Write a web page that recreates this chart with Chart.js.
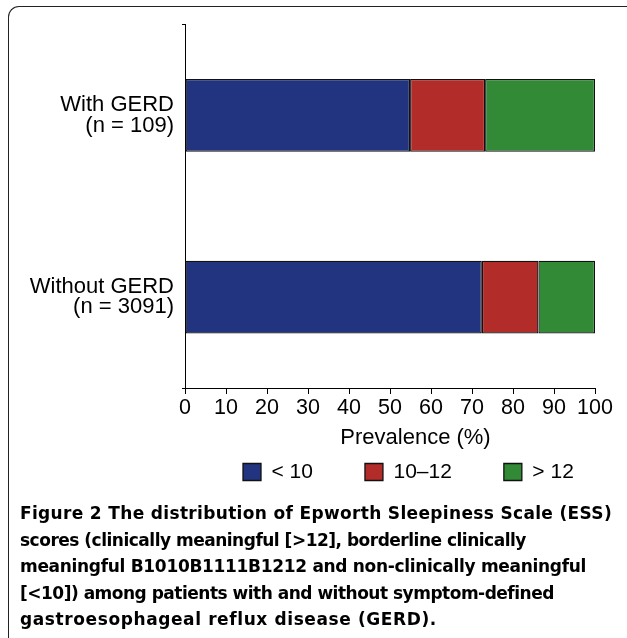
<!DOCTYPE html>
<html><head><meta charset="utf-8">
<script src="https://cdn.jsdelivr.net/npm/chart.js@4.4.0/dist/chart.umd.min.js"></script>
<style>
html,body{margin:0;padding:0;background:#fff;width:627px;height:638px;overflow:hidden;}
#frame{position:absolute;left:8px;top:6px;width:700px;height:700px;border-left:1.5px solid #222;border-top:1.5px solid #222;border-top-left-radius:11px;box-sizing:border-box;}
#wrap{position:absolute;left:0;top:0;width:627px;height:532px;}
#cap{position:absolute;left:20px;top:500px;font-family:"DejaVu Sans",sans-serif;font-weight:700;font-size:17px;line-height:26.6px;color:#000;}
#cap div{white-space:nowrap;display:block;width:max-content;}
</style></head><body>
<div id="frame"></div>
<div id="wrap"><canvas id="c"></canvas></div>
<div id="cap">
<div data-end="612"><b>Figure 2</b> The distribution of Epworth Sleepiness Scale (ESS)</div>
<div data-end="508">scores (clinically meaningful [&gt;12], borderline clinically</div>
<div data-end="586">meaningful B1010B1111B1212 and non-clinically meaningful</div>
<div data-end="553">[&lt;10]) among patients with and without symptom-defined</div>
<div data-end="460">gastroesophageal reflux disease (GERD).</div>
</div>
<script>
const categories = [['With GERD', '(n = 109)'], ['Without GERD', '(n = 3091)']];
const seriesNames = ['< 10', '10\u201312', '> 12'];
const below10 = [54.9, 72.4];
const from10to12 = [18.3, 13.8];
const above12 = [26.8, 13.8];
const seriesColors = ['#22347f', '#b22d29', '#328a36'];
const axisTitle = 'Prevalence (%)';

Chart.defaults.font.family = '"Liberation Sans", Arial, sans-serif';
Chart.defaults.color = '#000';

function fitCaption() {
  document.querySelectorAll('#cap div').forEach(d => {
    d.style.letterSpacing = '0px';
    const r = d.getBoundingClientRect();
    const target = parseFloat(d.dataset.end) - r.left;
    const n = d.textContent.length;
    const ls = Math.max(-0.5, Math.min(0.6, (target - r.width) / n));
    d.style.letterSpacing = ls.toFixed(3) + 'px';
  });
}
if (document.fonts && document.fonts.ready) document.fonts.ready.then(fitCaption);
fitCaption();

const placeBoxes = {
  id: 'placeBoxes',
  afterLayout(chart) {
    const lg = chart.legend;
    if (lg) {
      const h = lg.height;
      lg.left = 191; lg.width = 470; lg.right = lg.left + lg.width;
      lg.top = 409.5; lg.bottom = lg.top + h;
    }
    const tb = chart.titleBlock;
    if (tb) {
      const h = tb.height;
      tb.left = 415.5 - 150; tb.width = 300; tb.right = tb.left + tb.width;
      tb.top = 424.3; tb.bottom = tb.top + h;
    }
  }
};

const values = [below10, from10to12, above12];
new Chart(document.getElementById('c'), {
  type: 'bar',
  data: {
    labels: categories,
    datasets: seriesNames.map((name, i) => ({
      label: name,
      data: values[i],
      backgroundColor: seriesColors[i],
      borderColor: '#111',
      borderWidth: 1.3,
      borderSkipped: false,
      categoryPercentage: 1,
      barPercentage: 0.4
    }))
  },
  options: {
    indexAxis: 'y',
    responsive: true,
    maintainAspectRatio: false,
    animation: false,
    layout: { padding: { top: 24.5, right: 32, left: 0, bottom: 0.8 } },
    scales: {
      x: {
        type: 'linear', stacked: true, min: 0, max: 100,
        ticks: { stepSize: 10, padding: 1, maxRotation: 0, minRotation: 0, autoSkip: false, font: { size: 21.5 }, color: '#000' },
        grid: { drawOnChartArea: false, drawTicks: true, tickLength: 6, color: '#000', lineWidth: 1 },
        border: { display: true, color: '#000', width: 1 }
      },
      y: {
        type: 'category', stacked: true,
        afterFit: s => { s.width = 185; s.paddingTop = 0; s.paddingBottom = 0; },
        ticks: { padding: 8, font: { size: 22, lineHeight: 0.92 }, color: '#000' },
        grid: {
          drawOnChartArea: false, drawTicks: true, tickLength: 3, lineWidth: 1,
          color: c => c.index === 1 ? 'rgba(0,0,0,0)' : '#000'
        },
        border: { display: true, color: '#000', width: 1 }
      }
    },
    plugins: {
      tooltip: { enabled: false },
      title: {
        display: true, position: 'bottom', text: axisTitle,
        font: { size: 22, weight: 'normal', lineHeight: 1.2 }, padding: 0, color: '#000'
      },
      legend: {
        display: true, position: 'bottom', align: 'start',
        labels: { boxWidth: 18, boxHeight: 17, padding: 52, font: { size: 21 }, color: '#000' }
      }
    }
  },
  plugins: [placeBoxes]
});
</script>
</body></html>
